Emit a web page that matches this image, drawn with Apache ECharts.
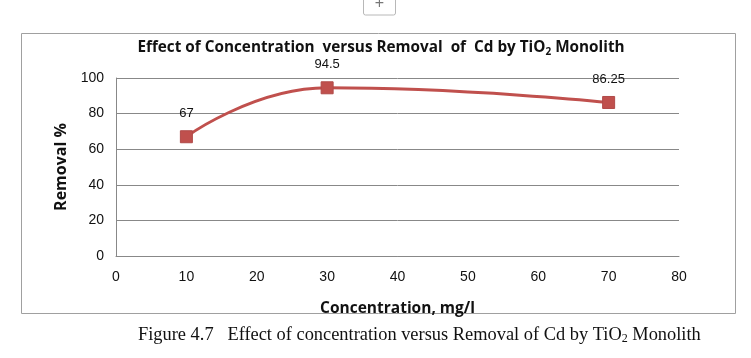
<!DOCTYPE html>
<html><head><meta charset="utf-8">
<script src="https://cdn.jsdelivr.net/npm/echarts@6/dist/echarts.min.js"></script>
<style>html,body{margin:0;padding:0;background:#fff}#c{width:751px;height:358px}</style>
</head><body><div id="c"></div>
<script>
const concentration = [10, 30, 70];
const removal = [67, 94.5, 86.25];
const labels = ['67', '94.5', '86.25'];
const xTicks = [0, 10, 20, 30, 40, 50, 60, 70, 80];
const yTicks = [0, 20, 40, 60, 80, 100];
const titleText = 'Effect of Concentration  versus Removal  of  Cd by TiO{s|2} Monolith';
const captionText = 'Figure 4.7   Effect of concentration versus Removal of Cd by TiO{s|2} Monolith';

const chart = echarts.init(document.getElementById('c'), null, {renderer: 'canvas'});
const tickFont = '"Liberation Sans", sans-serif';
const boldFont = '"Open Sans", sans-serif';
chart.setOption({
  animation: false,
  backgroundColor: '#fff',
  graphic: [
    {type: 'rect', shape: {x: 21.5, y: 33.5, width: 714, height: 280}, style: {fill: 'none', stroke: '#a0a0a0', lineWidth: 1}},
    {type: 'rect', shape: {x: 363.5, y: -4, width: 32, height: 19, r: 2}, style: {fill: '#fff', stroke: '#b8b8b8', lineWidth: 1}},
    {type: 'text', x: 379.5, y: 4, style: {text: '+', fill: '#777', font: '16px sans-serif', textAlign: 'center', textVerticalAlign: 'middle'}},
    {type: 'text', x: 138, y: 335, style: {text: captionText, rich: {s: {fontSize: 12, verticalAlign: 'bottom', padding: [7,0,0,0], fontFamily: '"Liberation Serif", serif', fill: '#111'}}, fill: '#111', font: '18.4px "Liberation Serif", serif', textVerticalAlign: 'middle'}}
  ],
  title: {
    text: titleText, left: 376, top: 33, textAlign: 'center',
    textStyle: {fontSize: 15.3, fontWeight: 'bold', color: '#111', fontFamily: boldFont,
      rich: {s: {fontSize: 10, fontWeight: 'bold', color: '#111', padding: [9,0,0,0], fontFamily: boldFont}}}
  },
  grid: {left: 116, right: 72, top: 78, bottom: 102, containLabel: false},
  xAxis: {
    type: 'value', min: 0, max: 80, interval: 10,
    name: 'Concentration, mg/l', nameLocation: 'middle', nameGap: 45,
    nameTextStyle: {fontSize: 15.5, fontWeight: 'bold', color: '#111', fontFamily: boldFont},
    axisLine: {show: true, lineStyle: {color: '#888', width: 1}},
    axisTick: {show: false},
    splitLine: {show: false},
    axisLabel: {color: '#111', fontSize: 14, margin: 14, fontFamily: tickFont}
  },
  yAxis: {
    type: 'value', min: 0, max: 100, interval: 20,
    name: 'Removal %', nameLocation: 'middle', nameGap: 45, nameRotate: 90,
    nameTextStyle: {fontSize: 16, fontWeight: 'bold', color: '#111', fontFamily: boldFont},
    axisLine: {show: true, lineStyle: {color: '#888', width: 1}},
    axisTick: {show: false},
    splitLine: {show: true, lineStyle: {color: '#888', width: 1}},
    axisLabel: {color: '#111', fontSize: 14, margin: 12, fontFamily: tickFont}
  },
  series: [{
    type: 'line', smooth: 0.5,
    data: concentration.map((x, i) => [x, removal[i]]),
    symbol: 'rect', symbolSize: 12,
    lineStyle: {color: '#c0504d', width: 3},
    itemStyle: {color: '#c0504d', borderColor: '#b04a48', borderWidth: 1},
    label: {show: true, position: 'top', distance: 10, color: '#111', fontSize: 13, fontFamily: tickFont,
      formatter: p => labels[p.dataIndex]}
  }]
});
</script></body></html>
